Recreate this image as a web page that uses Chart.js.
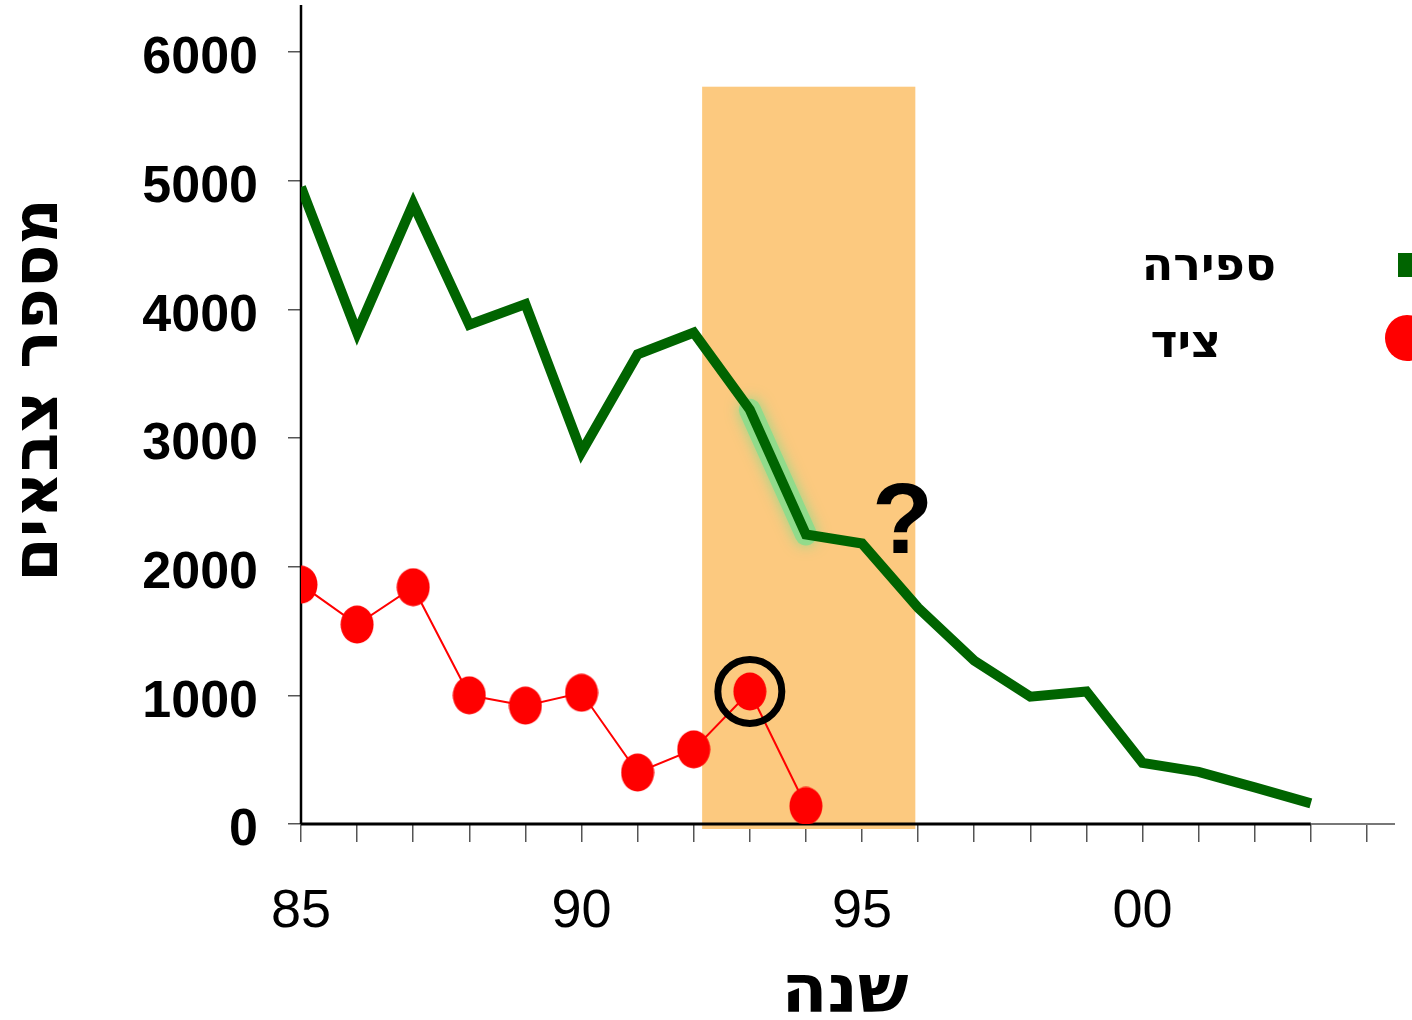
<!DOCTYPE html>
<html lang="he">
<head>
<meta charset="utf-8">
<script src="https://cdn.jsdelivr.net/npm/chart.js@4"></script>
<style>
  html, body { margin: 0; padding: 0; background: #fff; }
  #wrap { width: 1412px; height: 1020px; }
</style>
</head>
<body>
<div id="wrap"><canvas id="deerChart" width="1412" height="1020"></canvas></div>
<script>
// מספר צבאים לפי שנה - ספירה מול ציד

const countYears = [85, 86, 87, 88, 89, 90, 91, 92, 93, 94, 95, 96, 97, 98, 99, 100, 101, 102, 103];
const countValues = [4950, 3820, 4820, 3880, 4040, 2890, 3650, 3820, 3220, 2250, 2180, 1680, 1270, 990, 1030, 475, 405, 285, 160];

const huntYears = [85, 86, 87, 88, 89, 90, 91, 92, 93, 94];
const huntValues = [1860, 1550, 1840, 1000, 920, 1020, 400, 580, 1030, 140];

const yearTicks = [85, 90, 95, 100];
const yearTickLabels = ['85', '90', '95', '00'];
const countTicks = [0, 1000, 2000, 3000, 4000, 5000, 6000];

const seriesNames = ['ספירה', 'ציד'];
const yTitle = 'מספר צבאים';
const xTitle = 'שנה';

// תקופה מודגשת + סימונים
const bandStart = 92.15;
const bandEnd = 95.95;
const bandTop = 5730;
const glowFrom = 93;
const glowTo = 94;
const circledYear = 93;

const FONT = "'Liberation Sans', Arial, sans-serif";
const HEB = "'DejaVu Sans', 'Liberation Sans', sans-serif";
const GREEN = '#006400';
const RED = '#ff0000';

function makeDot(w, h) {
  const c = document.createElement('canvas');
  c.width = w; c.height = h;
  const g = c.getContext('2d');
  g.fillStyle = RED;
  g.beginPath();
  g.ellipse(w / 2, h / 2, w / 2 - 0.5, h / 2 - 0.5, 0, 0, Math.PI * 2);
  g.fill();
  return c;
}

const extras = {
  id: 'extras',
  beforeDatasetsDraw(chart) {
    const { ctx, scales: { x, y } } = chart;
    ctx.save();
    // רקע כתום
    ctx.fillStyle = '#fcc97f';
    const bx0 = x.getPixelForValue(bandStart), bx1 = x.getPixelForValue(bandEnd);
    const by0 = y.getPixelForValue(bandTop);
    ctx.fillRect(bx0, by0, bx1 - bx0, y.bottom + 5 - by0);

    // הילה ירוקה
    const i0 = countYears.indexOf(glowFrom), i1 = countYears.indexOf(glowTo);
    ctx.strokeStyle = 'rgba(140, 220, 140, 0.9)';
    ctx.shadowColor = 'rgba(140, 220, 140, 1)';
    ctx.shadowBlur = 14;
    ctx.lineWidth = 22;
    ctx.lineCap = 'round';
    ctx.beginPath();
    ctx.moveTo(x.getPixelForValue(countYears[i0]), y.getPixelForValue(countValues[i0]));
    ctx.lineTo(x.getPixelForValue(countYears[i1]), y.getPixelForValue(countValues[i1]));
    ctx.stroke();
    ctx.restore();

    // צירים
    ctx.save();
    ctx.strokeStyle = '#000';
    ctx.lineWidth = 2.5;
    ctx.beginPath();
    ctx.moveTo(x.left, y.top);
    ctx.lineTo(x.left, y.bottom);
    ctx.stroke();
    const xEnd = x.getPixelForValue(countYears[countYears.length - 1]);
    ctx.lineWidth = 3;
    ctx.beginPath();
    ctx.moveTo(x.left, y.bottom);
    ctx.lineTo(xEnd, y.bottom);
    ctx.stroke();
    ctx.strokeStyle = '#777';
    ctx.lineWidth = 2;
    ctx.beginPath();
    ctx.moveTo(xEnd, y.bottom);
    ctx.lineTo(x.right, y.bottom);
    ctx.stroke();
    ctx.restore();
  },
  afterDatasetsDraw(chart) {
    const { ctx, scales: { x, y } } = chart;
    ctx.save();
    // עיגול סביב נקודת הציד
    const ci = huntYears.indexOf(circledYear);
    ctx.strokeStyle = '#000';
    ctx.lineWidth = 7;
    ctx.beginPath();
    ctx.arc(x.getPixelForValue(huntYears[ci]), y.getPixelForValue(huntValues[ci]), 32, 0, Math.PI * 2);
    ctx.stroke();

    // סימן שאלה
    ctx.fillStyle = '#000';
    ctx.font = 'bold 100px ' + FONT;
    ctx.textAlign = 'center';
    ctx.textBaseline = 'alphabetic';
    ctx.fillText('?', x.getPixelForValue(95.72), y.getPixelForValue(2110));

    // מקרא
    ctx.font = 'bold 46px ' + HEB;
    ctx.textAlign = 'right';
    ctx.textBaseline = 'middle';
    ctx.fillText(seriesNames[0], 1276, 268);
    ctx.fillText(seriesNames[1], 1221, 345);
    ctx.fillStyle = GREEN;
    ctx.fillRect(1398, 253, 20, 24);
    ctx.fillStyle = RED;
    ctx.beginPath();
    ctx.ellipse(1407, 338, 22, 23, 0, 0, Math.PI * 2);
    ctx.fill();

    // כותרות צירים
    ctx.fillStyle = '#000';
    ctx.font = 'bold 67px ' + HEB;
    ctx.textAlign = 'center';
    ctx.fillText(xTitle, 845, 995);
    ctx.translate(40, 390);
    ctx.rotate(-Math.PI / 2);
    ctx.font = 'bold 64px ' + HEB;
    ctx.fillText(yTitle, 0, 0);
    ctx.restore();
  }
};

new Chart(document.getElementById('deerChart'), {
  type: 'line',
  data: {
    datasets: [
      {
        label: seriesNames[0],
        data: countYears.map((yr, i) => ({ x: yr, y: countValues[i] })),
        borderColor: GREEN,
        borderWidth: 10,
        pointRadius: 0,
        tension: 0,
        borderJoinStyle: 'miter',
        order: 1
      },
      {
        label: seriesNames[1],
        data: huntYears.map((yr, i) => ({ x: yr, y: huntValues[i] })),
        borderColor: RED,
        borderWidth: 2,
        pointStyle: makeDot(34, 39),
        pointRadius: 18,
        tension: 0,
        order: 0
      }
    ]
  },
  options: {
    responsive: false,
    animation: false,
    events: [],
    layout: { autoPadding: false, padding: { top: 5, right: 17, left: 0, bottom: 0 } },
    plugins: {
      legend: { display: false },
      tooltip: { enabled: false }
    },
    scales: {
      x: {
        type: 'linear',
        min: 85,
        max: 104.5,
        border: { display: false },
        grid: { drawOnChartArea: false, drawTicks: true, tickLength: 18, color: '#555', lineWidth: 1.5 },
        ticks: {
          stepSize: 1,
          autoSkip: false,
          includeBounds: false,
          maxRotation: 0,
          padding: 38,
          color: '#000',
          font: { family: FONT, size: 54 },
          callback: (v) => {
            const i = yearTicks.indexOf(v);
            return i >= 0 ? yearTickLabels[i] : '';
          }
        },
        afterFit: (s) => { s.height = 196; s.paddingLeft = 0; s.paddingRight = 0; }
      },
      y: {
        min: 0,
        max: 6365,
        border: { display: false },
        grid: { drawOnChartArea: false, drawTicks: true, tickLength: 13, color: '#555', lineWidth: 1.5 },
        afterBuildTicks: (s) => { s.ticks = countTicks.map(v => ({ value: v })); },
        ticks: {
          padding: 30,
          labelOffset: 7,
          color: '#000',
          font: { family: FONT, size: 52, weight: 'bold' },
          callback: (v) => String(v)
        },
        afterFit: (s) => { s.width = 301; s.paddingTop = 0; s.paddingBottom = 0; }
      }
    }
  },
  plugins: [extras]
});
</script>
</body>
</html>
